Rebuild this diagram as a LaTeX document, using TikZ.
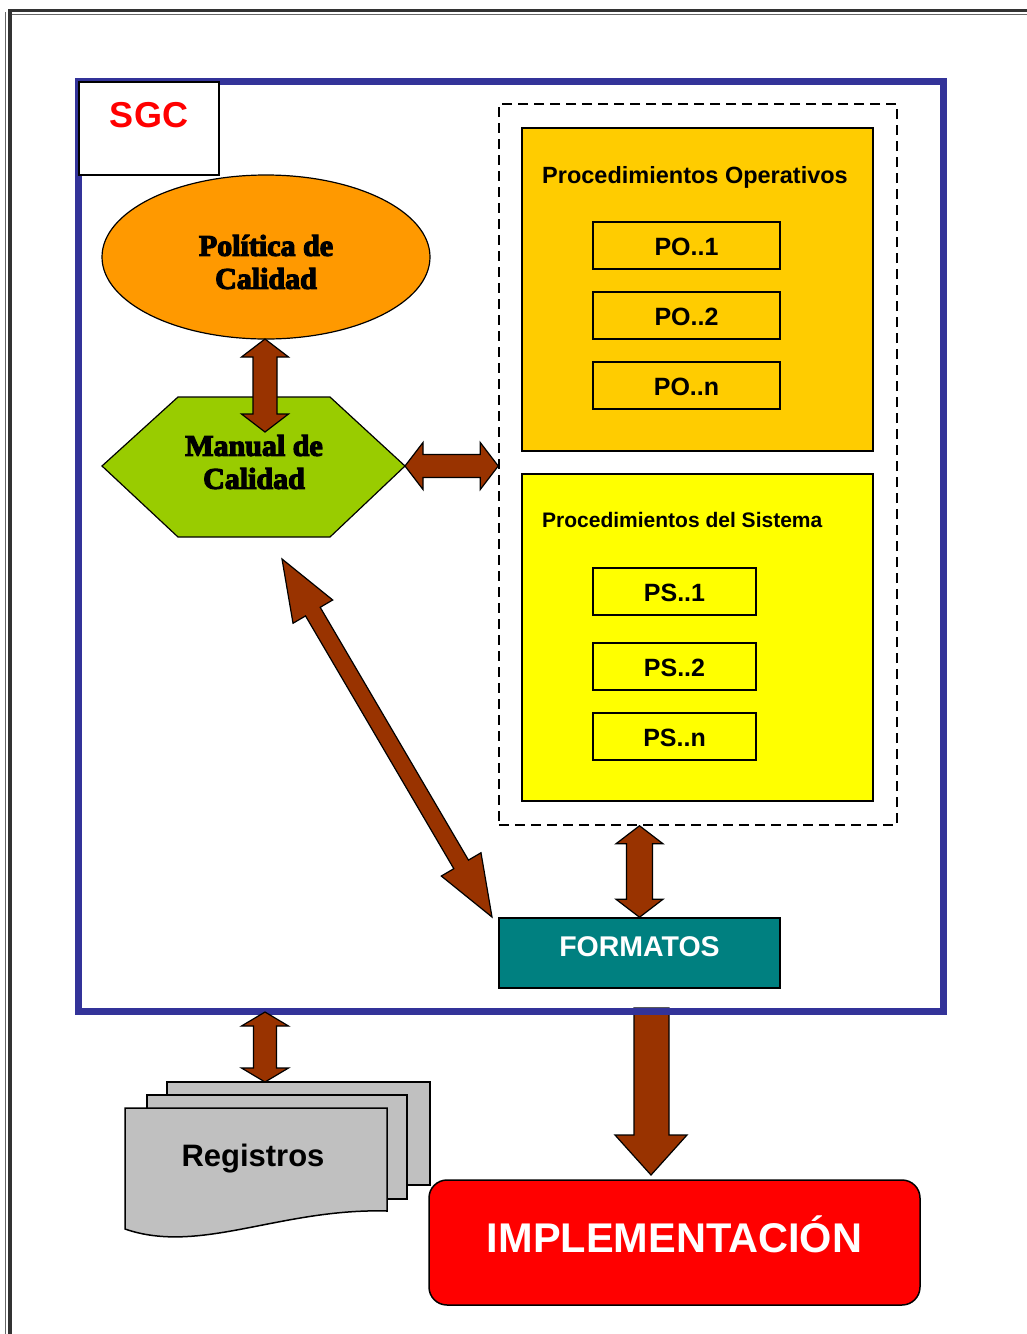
\documentclass[tikz,border=0pt]{standalone}
\usepackage{fontspec}
\setmainfont{Liberation Sans}
\newfontfamily\heavyserif[FakeBold=4]{Liberation Serif Bold}
\usetikzlibrary{calc,shapes.geometric}

\definecolor{frameblue}{HTML}{333399}
\definecolor{sgcred}{HTML}{FF0000}
\definecolor{polorange}{HTML}{FF9900}
\definecolor{mangreen}{HTML}{99CC00}
\definecolor{pogold}{HTML}{FFCC00}
\definecolor{psyellow}{HTML}{FFFF00}
\definecolor{fmtteal}{HTML}{008080}
\definecolor{arrowbrown}{HTML}{993300}
\definecolor{reggrey}{HTML}{C0C0C0}
\definecolor{darkline}{HTML}{333333}
\definecolor{greyline}{HTML}{666666}

% double-headed block arrow: #1 start, #2 end, #3 shaft half width,
% #4 head half width, #5 head length
\newcommand{\dblarrow}[5]{%
  \filldraw[blockarrow] (#1)
    -- ($(#1)!#5!(#2)!#4!90:(#2)$)
    -- ($(#1)!#5!(#2)!#3!90:(#2)$)
    -- ($(#2)!#5!(#1)!#3!-90:(#1)$)
    -- ($(#2)!#5!(#1)!#4!-90:(#1)$)
    -- (#2)
    -- ($(#2)!#5!(#1)!#4!90:(#1)$)
    -- ($(#2)!#5!(#1)!#3!90:(#1)$)
    -- ($(#1)!#5!(#2)!#3!-90:(#2)$)
    -- ($(#1)!#5!(#2)!#4!-90:(#2)$)
    -- cycle;}

\begin{document}
\begin{tikzpicture}[x=1pt,y=-1pt,
  box/.style={draw=black, line width=1.5pt, inner sep=0pt},
  blockarrow/.style={fill=arrowbrown, draw=black, line width=1.2pt, line join=miter},
  subbox/.style={box, minimum height=47pt, text height=19pt, text depth=0pt,
    font=\bfseries\fontsize{25}{28}\selectfont},
  titletext/.style={anchor=base west, inner sep=0pt},
  serifbig/.style={font=\heavyserif\fontsize{30}{33}\selectfont, align=center, inner sep=0pt},
  sheet/.style={draw=black, line width=1.5pt, fill=reggrey, line join=miter}]

\useasboundingbox (0,0) rectangle (1027,1334);

% page rule lines
\draw[line width=4pt, darkline] (10,9) -- (10,1334);
\draw[line width=1pt, greyline] (5.5,12) -- (5.5,1334);
\draw[line width=3pt, darkline] (8,10.5) -- (1027,10.5);
\draw[line width=1pt, greyline] (12,14.5) -- (1027,14.5);

% arrow from the system down to implementation
\coordinate (bigtip) at (651,1175);
\filldraw[blockarrow, shift={(bigtip)}]
  (-17,-167) -- (-17,-40) -- (-36,-40) -- (0,0) -- (36,-40) -- (18,-40) -- (18,-167) -- cycle;

% the quality management system frame
\node[draw=frameblue, line width=7pt, minimum width=864.5pt, minimum height=930pt, inner sep=0pt]
  (sgcframe) at (510.75,546.5) {};

% SGC title box
\node[box, fill=white, minimum width=140pt, minimum height=93pt] (sgcbox) at (149,128.5) {};
\node[anchor=base, inner sep=0pt, text=sgcred, font=\bfseries\fontsize{36}{40}\selectfont]
  (sgclabel) at (149,127) {SGC};

% quality policy
\node[ellipse, draw=black, line width=1.2pt, fill=polorange, minimum width=328pt,
  minimum height=164pt, inner sep=0pt] (pol) at (266,257) {};
\node[serifbig] (polt) at (266,262) {Política de\\Calidad};

% quality manual (hexagon)
\coordinate (hexW) at (102,466);
\coordinate (hexE) at (405,466);
\filldraw[draw=black, line width=1.2pt, fill=mangreen]
  (hexW) -- (178,397) -- (330,397) -- (hexE) -- (330,537) -- (178,537) -- cycle;
\node[serifbig] (man) at (254,462) {Manual de\\Calidad};

% procedures container
\node[draw=black, dash pattern=on 10pt off 6pt, line width=1.5pt, minimum width=398pt,
  minimum height=721pt, inner sep=0pt] (procs) at (698,464.5) {};

% operating procedures
\node[box, fill=pogold, minimum width=351pt, minimum height=323pt] (po) at (697.5,289.5) {};
\node[titletext, font=\bfseries\fontsize{23.5}{26}\selectfont] (pot) at (542,183)
  {Procedimientos Operativos};
\node[subbox, fill=pogold, minimum width=187pt] (po1) at (686.5,245.5) {PO..1};
\node[subbox, fill=pogold, minimum width=187pt] (po2) at (686.5,315.5) {PO..2};
\node[subbox, fill=pogold, minimum width=187pt] (pon) at (686.5,385.5) {PO..n};

% system procedures
\node[box, fill=psyellow, minimum width=351pt, minimum height=327pt] (ps) at (697.5,637.5) {};
\node[titletext, font=\bfseries\fontsize{21}{24}\selectfont] (pst) at (542,527)
  {Procedimientos del Sistema};
\node[subbox, fill=psyellow, minimum width=163pt] (ps1) at (674.5,591.5) {PS..1};
\node[subbox, fill=psyellow, minimum width=163pt] (ps2) at (674.5,666.5) {PS..2};
\node[subbox, fill=psyellow, minimum width=163pt] (psn) at (674.5,736.5) {PS..n};

% forms
\node[box, fill=fmtteal, minimum width=281pt, minimum height=70pt, text=white,
  text height=21pt, text depth=15pt, font=\bfseries\fontsize{28.5}{32}\selectfont]
  (fmt) at (639.5,953) {FORMATOS};

% records (stacked documents)
\filldraw[sheet] (167,1082) rectangle (430,1185);
\filldraw[sheet] (147,1095) rectangle (407,1199);
\filldraw[sheet] (125,1108) -- (387,1108) -- (387,1211)
  .. controls (280,1208) and (200,1255) .. (125,1229) -- cycle;
\node[anchor=base, inner sep=0pt, font=\bfseries\fontsize{31}{34}\selectfont]
  (reg) at (253,1166) {Registros};

% implementation
\node[draw=black, line width=1.5pt, fill=sgcred, rounded corners=18pt, minimum width=491pt,
  minimum height=125pt, inner sep=0pt, text=white, text height=30pt, text depth=11pt,
  font=\bfseries\fontsize{41.5}{45}\selectfont] (impl) at (674.5,1242.5) {IMPLEMENTACIÓN};

% connectors
\coordinate (manN) at (265,432);
\coordinate (polS) at (265,339);
\dblarrow{polS}{manN}{12pt}{23.5pt}{18pt}

\coordinate (procsW) at (procs.west |- hexE);
\dblarrow{hexE}{procsW}{11.5pt}{23.5pt}{18pt}

\coordinate (diagA) at (282,559);
\coordinate (diagB) at (492,917);
\dblarrow{diagA}{diagB}{8.5pt}{23pt}{61pt}

\coordinate (fmtTop) at (fmt.north |- procs.south);
\dblarrow{fmtTop}{fmt.north}{13pt}{23.5pt}{18pt}

\coordinate (regTop) at (265,1012);
\coordinate (regBot) at (265,1082);
\dblarrow{regTop}{regBot}{11.5pt}{23.5pt}{14pt}

\end{tikzpicture}
\end{document}
